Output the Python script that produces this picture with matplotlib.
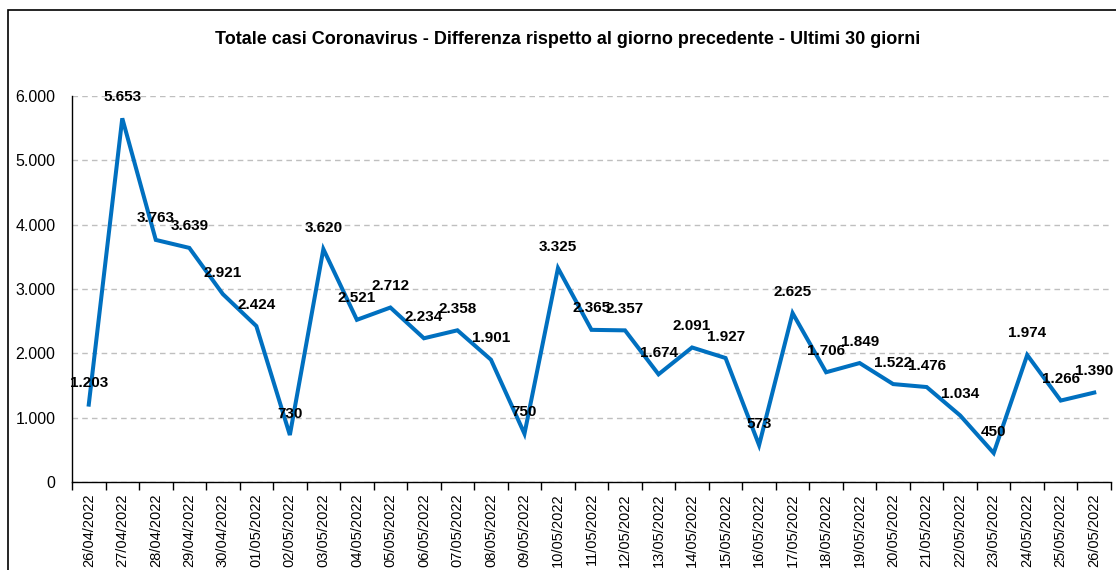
import matplotlib
matplotlib.use("Agg")
import matplotlib.pyplot as plt
from matplotlib.patches import Rectangle
from matplotlib.ticker import FuncFormatter, MultipleLocator

plt.rcParams['font.family'] = ['Liberation Sans', 'DejaVu Sans']

dates = ["26/04/2022", "27/04/2022", "28/04/2022", "29/04/2022", "30/04/2022",
         "01/05/2022", "02/05/2022", "03/05/2022", "04/05/2022", "05/05/2022",
         "06/05/2022", "07/05/2022", "08/05/2022", "09/05/2022", "10/05/2022",
         "11/05/2022", "12/05/2022", "13/05/2022", "14/05/2022", "15/05/2022",
         "16/05/2022", "17/05/2022", "18/05/2022", "19/05/2022", "20/05/2022",
         "21/05/2022", "22/05/2022", "23/05/2022", "24/05/2022", "25/05/2022",
         "26/05/2022"]
values = [1203, 5653, 3763, 3639, 2921, 2424, 730, 3620, 2521, 2712,
          2234, 2358, 1901, 750, 3325, 2365, 2357, 1674, 2091, 1927,
          573, 2625, 1706, 1849, 1522, 1476, 1034, 450, 1974, 1266, 1390]
title = "Totale casi Coronavirus - Differenza rispetto al giorno precedente - Ultimi 30 giorni"

W, H = 1116, 570
fig = plt.figure(figsize=(W / 100, H / 100), dpi=100)
ax = fig.add_axes([72 / W, 1 - 482 / H, (1111 - 72) / W, (482 - 96) / H])

x = list(range(len(values)))
ax.plot(x, values, color='#0070C0', lw=2.9, solid_joinstyle='miter', clip_on=False, zorder=3)

def fmt(v):
    return f"{int(v):,}".replace(",", ".")

for xi, v in zip(x, values):
    ax.annotate(fmt(v), (xi, v), xytext=(0, 15.5), textcoords='offset points',
                ha='center', va='center', fontsize=11, fontweight='bold',
                color='black', annotation_clip=False, zorder=4)

ax.set_xlim(-0.5, len(values) - 0.5)
ax.set_ylim(0, 6000)
ax.yaxis.set_major_locator(MultipleLocator(1000))
ax.yaxis.set_major_formatter(FuncFormatter(lambda v, p: fmt(v)))
ax.grid(axis='y', color='#bfbfbf', linestyle=(0, (4, 3)), lw=1)
ax.set_axisbelow(True)

ax.set_xticks(x)
ax.set_xticklabels(dates, rotation=90, va='top', ha='center')
ax.set_xticks([i - 0.5 for i in range(len(values) + 1)], minor=True)
ax.tick_params(axis='x', which='major', length=0, pad=8, labelsize=10.5)
ax.tick_params(axis='x', which='minor', length=6, width=1, direction='out', color='black')
ax.tick_params(axis='y', length=0, pad=12, labelsize=11.5)

for s in ['top', 'right']:
    ax.spines[s].set_visible(False)
for s in ['left', 'bottom']:
    ax.spines[s].set_color('black')
    ax.spines[s].set_linewidth(1)

fig.text(568 / W, 1 - 40 / H, title, ha='center', va='center', fontsize=13, fontweight='bold')

fig.add_artist(Rectangle((8 / W, -0.1), 1.2, 1.1 - 10 / H, transform=fig.transFigure,
                         fill=False, edgecolor='black', lw=1.2))

fig.savefig("out.png", dpi=100)
